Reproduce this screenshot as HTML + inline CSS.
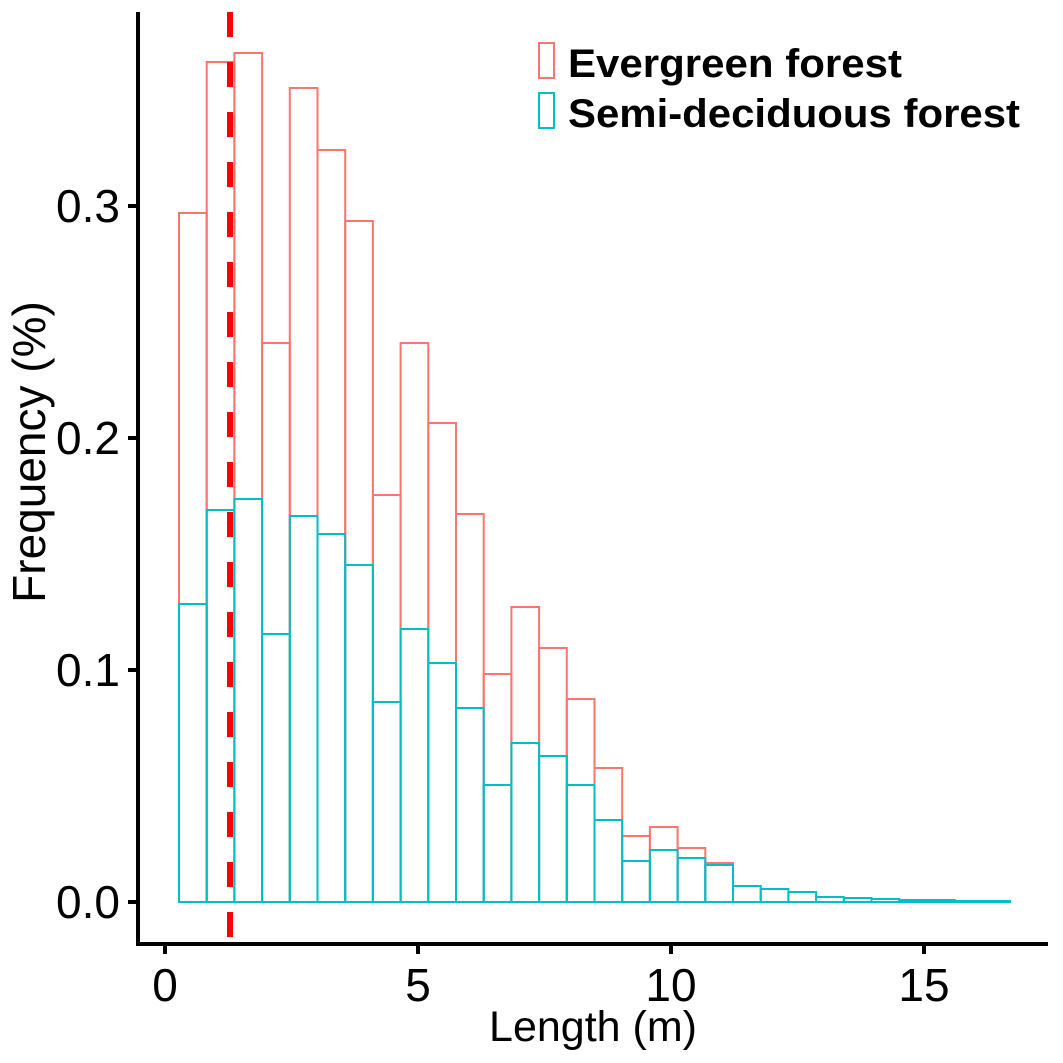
<!DOCTYPE html>
<html><head><style>body{margin:0;background:#fff}svg{display:block}</style></head><body>
<svg width="1063" height="1063" xmlns="http://www.w3.org/2000/svg" font-family="Liberation Sans, sans-serif">
<rect width="1063" height="1063" fill="#fff"/>
<g fill="none" stroke-width="2" stroke="#F8766D">
<rect x="179.0" y="213" width="27.7" height="689"/>
<rect x="206.7" y="62" width="27.7" height="840"/>
<rect x="234.4" y="53" width="27.7" height="849"/>
<rect x="262.1" y="343" width="27.7" height="559"/>
<rect x="289.8" y="88" width="27.7" height="814"/>
<rect x="317.5" y="150" width="27.7" height="752"/>
<rect x="345.2" y="221" width="27.7" height="681"/>
<rect x="372.9" y="495" width="27.7" height="407"/>
<rect x="400.6" y="343" width="27.7" height="559"/>
<rect x="428.3" y="423" width="27.7" height="479"/>
<rect x="456.0" y="514" width="27.7" height="388"/>
<rect x="483.7" y="674" width="27.7" height="228"/>
<rect x="511.4" y="607" width="27.7" height="295"/>
<rect x="539.1" y="648" width="27.7" height="254"/>
<rect x="566.8" y="699" width="27.7" height="203"/>
<rect x="594.5" y="768" width="27.7" height="134"/>
<rect x="622.2" y="836" width="27.7" height="66"/>
<rect x="649.9" y="827" width="27.7" height="75"/>
<rect x="677.6" y="848" width="27.7" height="54"/>
<rect x="705.3" y="863" width="27.7" height="39"/>
</g>
<g fill="none" stroke-width="2" stroke="#00BFC4">
<rect x="179.0" y="604" width="27.7" height="298"/>
<rect x="206.7" y="510" width="27.7" height="392"/>
<rect x="234.4" y="499" width="27.7" height="403"/>
<rect x="262.1" y="634" width="27.7" height="268"/>
<rect x="289.8" y="516" width="27.7" height="386"/>
<rect x="317.5" y="534" width="27.7" height="368"/>
<rect x="345.2" y="565" width="27.7" height="337"/>
<rect x="372.9" y="702" width="27.7" height="200"/>
<rect x="400.6" y="629" width="27.7" height="273"/>
<rect x="428.3" y="663" width="27.7" height="239"/>
<rect x="456.0" y="708" width="27.7" height="194"/>
<rect x="483.7" y="785" width="27.7" height="117"/>
<rect x="511.4" y="743" width="27.7" height="159"/>
<rect x="539.1" y="756" width="27.7" height="146"/>
<rect x="566.8" y="785" width="27.7" height="117"/>
<rect x="594.5" y="820" width="27.7" height="82"/>
<rect x="622.2" y="861" width="27.7" height="41"/>
<rect x="649.9" y="850" width="27.7" height="52"/>
<rect x="677.6" y="858" width="27.7" height="44"/>
<rect x="705.3" y="865" width="27.7" height="37"/>
<rect x="733.0" y="886" width="27.7" height="16"/>
<rect x="760.7" y="889" width="27.7" height="13"/>
<rect x="788.4" y="892" width="27.7" height="10"/>
<rect x="816.1" y="897" width="27.7" height="5"/>
<rect x="843.8" y="898" width="27.7" height="4"/>
<rect x="871.5" y="899" width="27.7" height="3"/>
<rect x="899.2" y="900" width="27.7" height="2"/>
<rect x="926.9" y="900" width="27.7" height="2"/>
<rect x="954.6" y="901" width="27.7" height="1"/>
<rect x="982.3" y="901" width="27.7" height="1"/>
</g>
<line x1="230" y1="12" x2="230" y2="943" stroke="#ff0000" stroke-width="6" stroke-dasharray="25,25"/>
<g stroke="#000" stroke-width="4">
<line x1="138" y1="12" x2="138" y2="944"/>
<line x1="136" y1="944" x2="1048" y2="944"/>
<line x1="128" y1="902" x2="138" y2="902"/>
<line x1="128" y1="670" x2="138" y2="670"/>
<line x1="128" y1="438" x2="138" y2="438"/>
<line x1="128" y1="206" x2="138" y2="206"/>
<line x1="165" y1="944" x2="165" y2="954"/>
<line x1="418" y1="944" x2="418" y2="954"/>
<line x1="671" y1="944" x2="671" y2="954"/>
<line x1="924" y1="944" x2="924" y2="954"/>
</g>
<g font-size="46" fill="#000" text-anchor="end">
<text x="120" y="918">0.0</text><text x="120" y="686">0.1</text><text x="120" y="454">0.2</text><text x="120" y="222">0.3</text>
</g>
<g font-size="46" fill="#000" text-anchor="middle">
<text x="165" y="1001">0</text><text x="418" y="1001">5</text><text x="671" y="1001">10</text><text x="924" y="1001">15</text>
<text x="593" y="1041" font-size="43">Length (m)</text>
<text transform="translate(45,452) rotate(-90)" font-size="46">Frequency (%)</text>
</g>
<rect x="539" y="43" width="15" height="35" fill="none" stroke="#F8766D" stroke-width="2"/>
<rect x="539" y="93" width="15" height="35" fill="none" stroke="#00BFC4" stroke-width="2"/>
<g font-size="40" font-weight="bold" fill="#000">
<text x="568" y="77" textLength="334" lengthAdjust="spacingAndGlyphs">Evergreen forest</text>
<text x="568" y="127" textLength="452" lengthAdjust="spacingAndGlyphs">Semi-deciduous forest</text>
</g>
</svg>
</body></html>
